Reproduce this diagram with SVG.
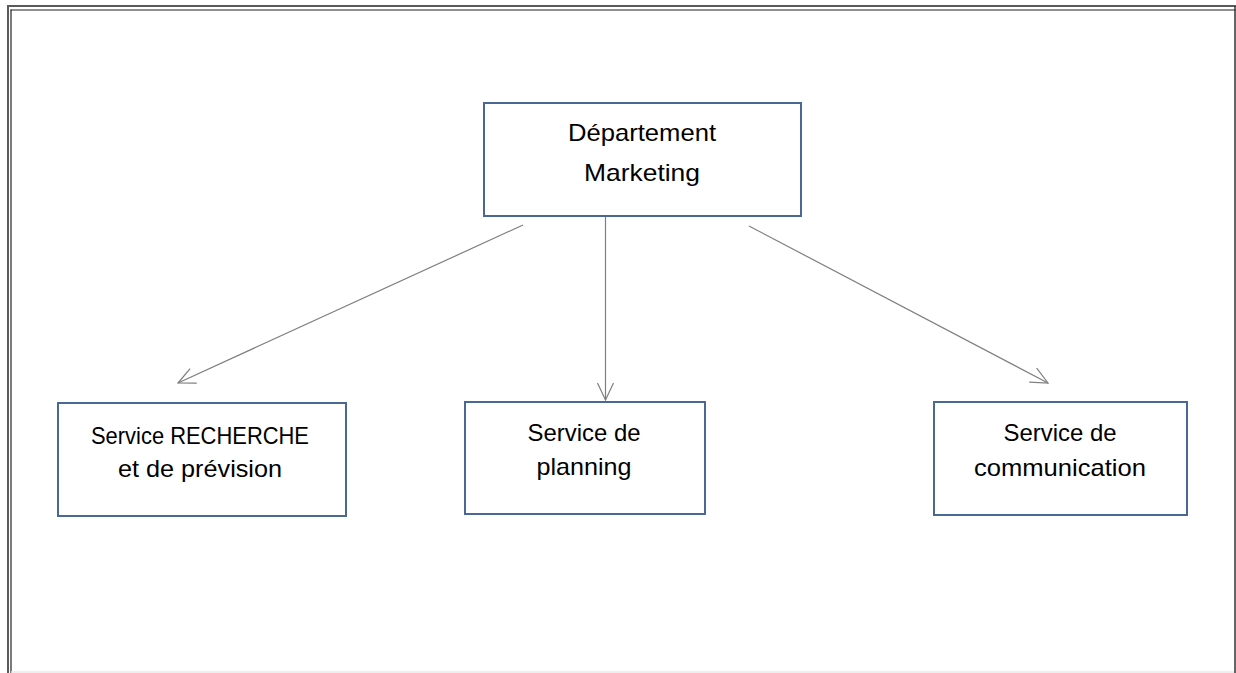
<svg xmlns="http://www.w3.org/2000/svg" width="1236" height="673" viewBox="0 0 1236 673">
  <defs>
    <style>
      .box { fill: #ffffff; stroke: #4a6896; stroke-width: 2; }
      .lbl { font-family: "Liberation Sans", Arial, sans-serif; font-size: 24px; fill: #000000; text-anchor: middle; }
      .edge { stroke: #7f7f7f; stroke-width: 1.2; fill: none; }
    </style>
    <marker id="arrow" viewBox="0 0 20 20" refX="19" refY="10" markerWidth="20" markerHeight="20" markerUnits="userSpaceOnUse" orient="auto">
      <path d="M2,2 L19,10 L2,18" fill="none" stroke="#7f7f7f" stroke-width="1.2"/>
    </marker>
  </defs>

  <rect width="1236" height="673" fill="#ffffff"/>

  <!-- page frame: double rule -->
  <g id="frame">
    <line x1="7" y1="6" x2="1236" y2="6" stroke="#5a5a5a" stroke-width="2"/>
    <line x1="10.5" y1="10" x2="1236" y2="10" stroke="#222222" stroke-width="1.2"/>
    <line x1="8" y1="5" x2="8" y2="673" stroke="#5a5a5a" stroke-width="2"/>
    <line x1="11" y1="9.5" x2="11" y2="673" stroke="#222222" stroke-width="1.2"/>
    <line x1="1235" y1="6" x2="1235" y2="673" stroke="#333333" stroke-width="1.5"/>
    <line x1="11" y1="672" x2="1234" y2="672" stroke="#e8e8e8" stroke-width="1.5"/>
  </g>

  <g id="connectors">
    <line class="edge" x1="523" y1="225" x2="178" y2="383" marker-end="url(#arrow)"/>
    <line class="edge" x1="605.5" y1="217" x2="605.5" y2="400" marker-end="url(#arrow)"/>
    <line class="edge" x1="749" y1="226" x2="1048" y2="383" marker-end="url(#arrow)"/>
  </g>

  <g id="departement-marketing">
    <rect class="box" x="484" y="103" width="317" height="113"/>
    <text class="lbl" x="642" y="141" textLength="148" lengthAdjust="spacingAndGlyphs">Département</text>
    <text class="lbl" x="642" y="181" textLength="116" lengthAdjust="spacingAndGlyphs">Marketing</text>
  </g>

  <g id="service-recherche">
    <rect class="box" x="58" y="403" width="288" height="113"/>
    <text class="lbl" x="200" y="444" textLength="218" lengthAdjust="spacingAndGlyphs">Service RECHERCHE</text>
    <text class="lbl" x="200" y="477" textLength="164" lengthAdjust="spacingAndGlyphs">et de prévision</text>
  </g>

  <g id="service-planning">
    <rect class="box" x="465" y="402" width="240" height="112"/>
    <text class="lbl" x="584" y="441" textLength="113" lengthAdjust="spacingAndGlyphs">Service de</text>
    <text class="lbl" x="584" y="475" textLength="95" lengthAdjust="spacingAndGlyphs">planning</text>
  </g>

  <g id="service-communication">
    <rect class="box" x="934" y="402" width="253" height="113"/>
    <text class="lbl" x="1060" y="441" textLength="113" lengthAdjust="spacingAndGlyphs">Service de</text>
    <text class="lbl" x="1060" y="476" textLength="172" lengthAdjust="spacingAndGlyphs">communication</text>
  </g>
</svg>
